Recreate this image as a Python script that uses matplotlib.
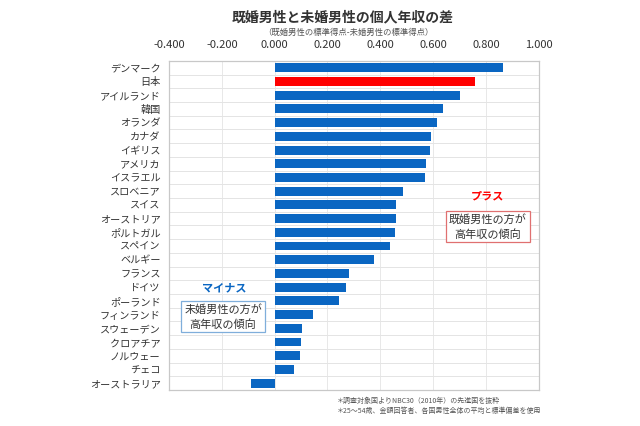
import matplotlib
matplotlib.use("Agg")
import matplotlib.pyplot as plt
from matplotlib.ticker import FormatStrFormatter

plt.rcParams['font.family'] = ['Noto Sans CJK JP', 'DejaVu Sans']

countries = ["デンマーク", "日本", "アイルランド", "韓国", "オランダ", "カナダ", "イギリス",
             "アメリカ", "イスラエル", "スロベニア", "スイス", "オーストリア", "ポルトガル",
             "スペイン", "ベルギー", "フランス", "ドイツ", "ポーランド", "フィンランド",
             "スウェーデン", "クロアチア", "ノルウェー", "チェコ", "オーストラリア"]
values = [0.864, 0.757, 0.700, 0.638, 0.615, 0.590, 0.587, 0.572, 0.570, 0.484, 0.461,
          0.458, 0.457, 0.436, 0.375, 0.282, 0.270, 0.245, 0.145, 0.103, 0.100, 0.096,
          0.075, -0.088]
xticks = [-0.4, -0.2, 0.0, 0.2, 0.4, 0.6, 0.8, 1.0]

blue = "#0A66C2"
red = "#FF0000"
colors = [red if c == "日本" else blue for c in countries]

fig = plt.figure(figsize=(6.4, 4.26), dpi=100)
ax = fig.add_axes([0.264, 0.0845, 0.578, 0.7725])

y = list(range(len(countries)))
ax.barh(y, values, height=0.65, color=colors, zorder=3)
ax.set_ylim(len(countries) - 0.5, -0.5)
ax.set_xlim(-0.4, 1.0)
ax.set_yticks(y)
ax.set_yticklabels(countries, fontsize=7.3, color="#333333")
ax.set_xticks(xticks)
ax.xaxis.set_major_formatter(FormatStrFormatter('%.3f'))
ax.xaxis.tick_top()
ax.tick_params(axis='x', length=0, labelsize=8, colors="#333333", pad=8)
ax.tick_params(axis='y', length=0, pad=6)

# grid: vertical at ticks, horizontal between rows
for xv in xticks[1:-1]:
    ax.axvline(xv, color="#E8E8E8", lw=0.7, zorder=1)
for i in range(len(countries) - 1):
    ax.axhline(i + 0.5, color="#E4E4E4", lw=0.7, zorder=1)
for s in ax.spines.values():
    s.set_color("#C8C8C8")
    s.set_linewidth(0.9)

fig.text(0.535, 0.958, "既婚男性と未婚男性の個人年収の差", ha="center", va="center",
         fontsize=10, fontweight="bold", color="#333333")
fig.text(0.545, 0.924, "（既婚男性の標準得点-未婚男性の標準得点）", ha="center", va="center",
         fontsize=6, color="#555555")

# annotations
ax.text(0.807, 9.35, "プラス", ha="center", va="center", fontsize=8, fontweight="bold", color=red)
ax.text(0.807, 11.58, "既婚男性の方が\n高年収の傾向", ha="center", va="center", fontsize=8,
        color="#333333", linespacing=1.5,
        bbox=dict(boxstyle="square,pad=0.25", fc="white", ec="#E07070", lw=0.9), zorder=5)
ax.text(-0.19, 16.07, "マイナス", ha="center", va="center", fontsize=8, fontweight="bold", color=blue)
ax.text(-0.195, 18.15, "未婚男性の方が\n高年収の傾向", ha="center", va="center", fontsize=8,
        color="#333333", linespacing=1.5,
        bbox=dict(boxstyle="square,pad=0.25", fc="white", ec="#7FAEDB", lw=0.9), zorder=5)

fig.text(0.527, 0.059, "＊調査対象国よりNBC30（2010年）の先進国を抜粋", ha="left", va="center",
         fontsize=5.0, color="#555555")
fig.text(0.527, 0.035, "＊25～54歳、金額回答者、各国男性全体の平均と標準偏差を使用", ha="left", va="center",
         fontsize=5.0, color="#555555")

fig.savefig("out.png", dpi=100)
